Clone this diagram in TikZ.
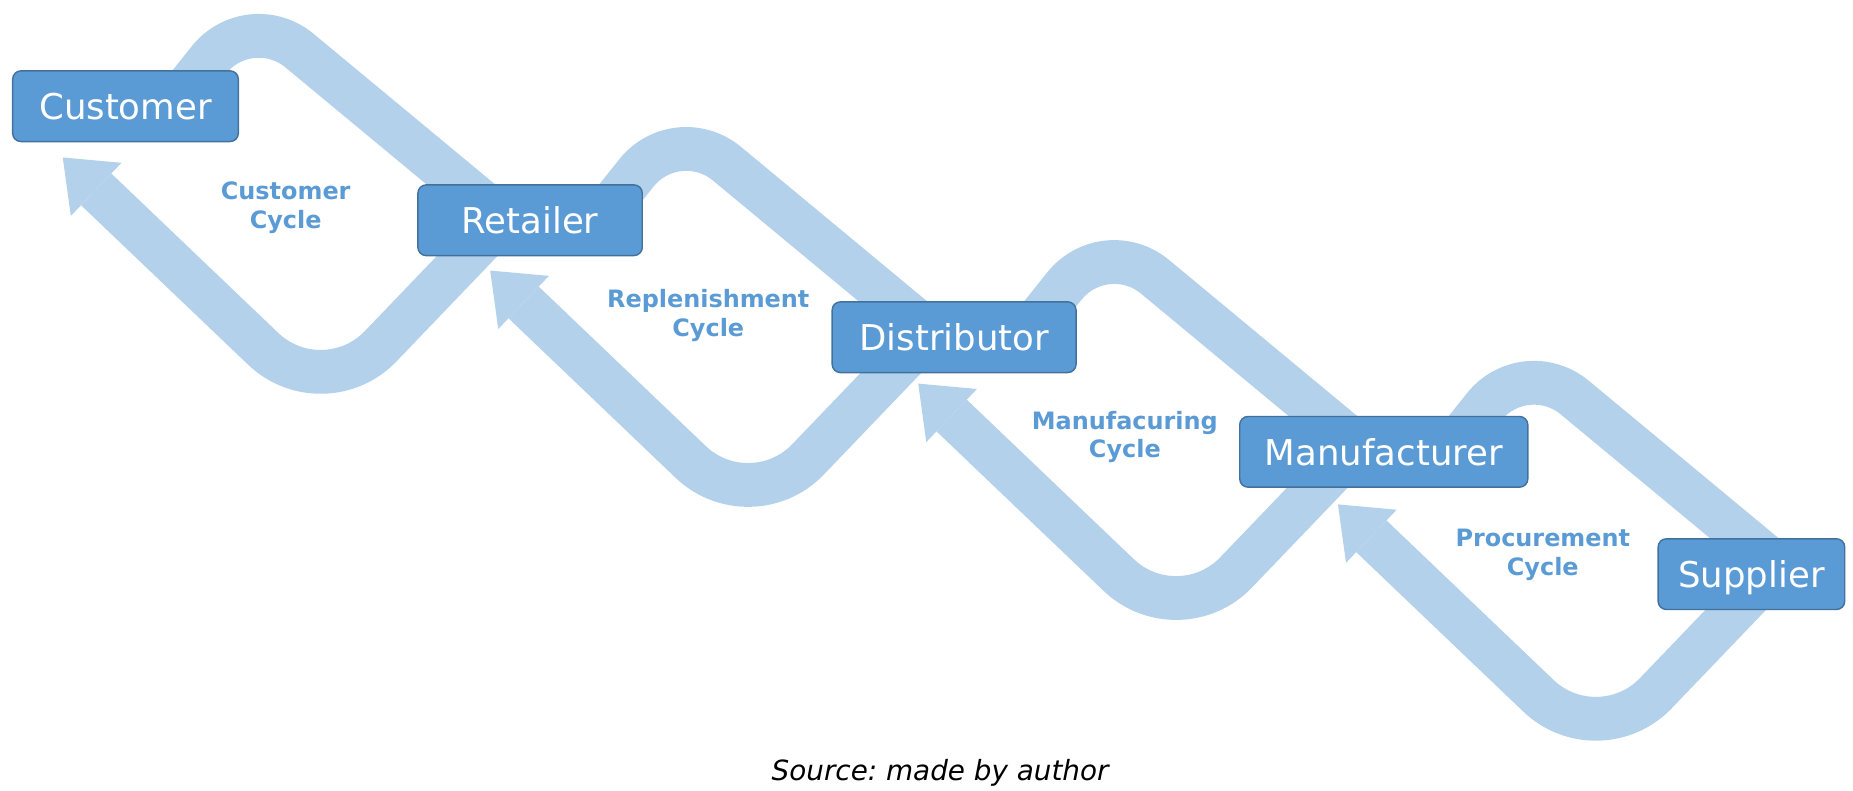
\documentclass[tikz,border=0pt]{standalone}
\usepackage{fontspec}
\setmainfont{DejaVu Sans}
\usetikzlibrary{arrows.meta,backgrounds}
\definecolor{stagefill}{RGB}{91,155,213}
\definecolor{stageline}{RGB}{65,113,156}
\definecolor{bandblue}{RGB}{180,209,235}
\frenchspacing
\begin{document}
\begin{tikzpicture}[x=1pt,y=-1pt,
    stage/.style={draw=stageline,line width=1.2pt,fill=stagefill,rounded corners=7pt,
        text=white,font=\fontsize{30}{36}\selectfont,minimum height=59.7pt,
        text height=23pt,text depth=0pt,inner sep=0pt},
    band/.style={draw=bandblue,line width=37pt,
        -{Triangle[length=39pt,width=62pt,line width=0pt]}},
    cyc/.style={text=stagefill,font=\bfseries\fontsize{20.2}{24.2}\selectfont,align=center}]
\useasboundingbox (0,0) rectangle (1565,668);

\path (106,89.7)
    node (cu) [stage,minimum width=190.6pt] {Customer} ++(341.7,96.3)
    node (re) [stage,minimum width=189.5pt] {Retailer} ++(358.1,98.8)
    node (di) [stage,minimum width=206pt] {Distributor} ++(362.9,96.8)
    node (mf) [stage,minimum width=243.3pt] {Manufacturer} ++(310.5,103.3)
    node (su) [stage,minimum width=157.6pt] {Supplier};

\path (node cs:name=cu,anchor=center) +(39,.3) coordinate (cub) {};
\path (node cs:name=re,anchor=center) +(58.3,-.5) coordinate (reb) {};
\path (node cs:name=di,anchor=center) +(61.7,-3.8) coordinate (dib) {};
\path (node cs:name=mf,anchor=center) +(53.3,1.4) coordinate (mfb) {};

\begin{scope}[on background layer]
\draw[band] (cub) [rounded corners=55pt] -- ++(65.7,-82.3) [rounded corners=8pt]
    -- ++(213.8,177.3) [rounded corners=70pt] -- ++(-151.5,158) -- ++(-220,-210);
\draw[band] (reb) [rounded corners=55pt] -- ++(65.7,-82.3) [rounded corners=8pt]
    -- ++(213.8,177.3) [rounded corners=70pt] -- ++(-151.5,158) -- ++(-220,-210);
\draw[band] (dib) [rounded corners=55pt] -- ++(65.7,-82.3) [rounded corners=8pt]
    -- ++(213.8,177.3) [rounded corners=70pt] -- ++(-151.5,158) -- ++(-220,-210);
\draw[band] (mfb) [rounded corners=55pt] -- ++(65.7,-82.3) [rounded corners=8pt]
    -- ++(213.8,177.3) [rounded corners=70pt] -- ++(-151.5,158) -- ++(-220,-210);
\end{scope}

\node (cc) [cyc] at (241.3,175.5) {Customer\\Cycle};
\node (rc) [cyc] at (598.2,266.4) {Replenishment\\Cycle};
\node (mc) [cyc] at (950,369.1) {Manufacuring\\Cycle};
\node (pc) [cyc] at (1303,468.5) {Procurement\\Cycle};
\node (src) [anchor=base,font=\itshape\fontsize{23.5}{28}\selectfont]
    at (794,658.8) {Source: made by author};
\end{tikzpicture}
\end{document}
